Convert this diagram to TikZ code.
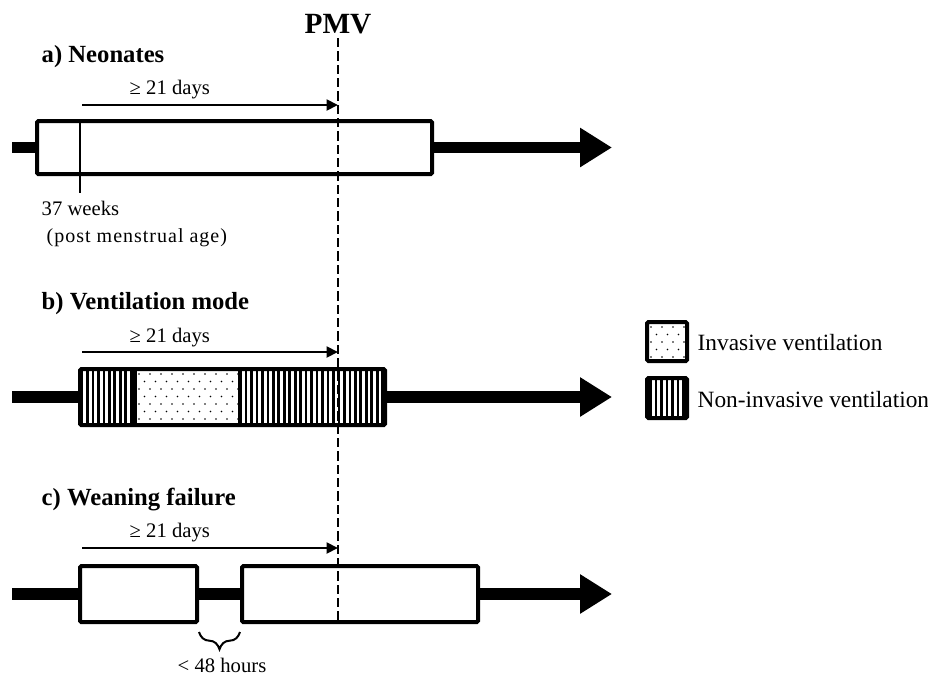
\documentclass[tikz,border=0pt]{standalone}
\usepackage{fontspec}
\setmainfont{Liberation Serif}
\newfontfamily\postfont[LetterSpace=5]{Liberation Serif}
\usetikzlibrary{arrows.meta,fit,patterns.meta,decorations.pathreplacing}
% dotted fill for invasive ventilation: x1 y1 x2 y2
\newcommand{\dotfield}[4]{%
  \begin{scope}
    \clip (#1,#2) rectangle (#3,#4);
    \foreach \r in {0,...,7}
      \foreach \c in {0,...,12}
        \fill ({#1+4+\c*11+mod(\r,2)*5.5},{#2+5+\r*7.5}) circle (0.6pt);
  \end{scope}}
\tikzset{
  box/.style={draw, line width=3pt, fill=white, inner sep=0pt, rounded corners=1pt},
  timeline/.style={line width=8.8pt},
  bigarrow/.style={line width=8.8pt, -{Triangle[length=24pt,width=28pt]}},
  spanarrow/.style={line width=2.2pt, -{Triangle[length=8.5pt,width=8pt]}},
  heading/.style={anchor=base west, font=\bfseries\fontsize{18.5}{22}\selectfont},
  smalltext/.style={anchor=base west, font=\fontsize{15.5}{18}\selectfont},
  legendtext/.style={anchor=base west, font=\fontsize{17.5}{21}\selectfont},
  stripes/.style={pattern={Lines[angle=90,distance=4.1pt,line width=2pt]}},
  pmvline/.style={line width=1.5pt, dash pattern=on 7pt off 3pt},
}
\begin{document}
\begin{tikzpicture}[x=0.75pt,y=-0.75pt]
\useasboundingbox (0,0) rectangle (928,679);
\node[anchor=base, font=\bfseries\fontsize{22}{26}\selectfont] (pmv) at (338,33) {PMV};

% a) neonates
\node[heading] (heada) at (37,62) {a) Neonates};
\node[box, fit={(37,121) (432,174)}] (boxa) {};
\coordinate (a-in) at (12,147.5);
\coordinate (a-out) at (612,147.5);
\draw[timeline] (a-in) -- (boxa.west);
\draw[bigarrow] (boxa.east) -- (a-out);
\coordinate (wk37) at (80,193);
\draw[line width=2pt] (wk37 |- boxa.north) -- (wk37);
\node[smalltext] (wka) at (37,215) {37 weeks};
\node[anchor=base west, font=\postfont\fontsize{15}{18}\selectfont] (pma) at (42,242) {(post menstrual age)};
\coordinate (a-from) at (82,105);
\draw[spanarrow] (a-from) -- (a-from -| pmv);
\node[smalltext] (daysa) at (125,94) {≥ 21 days};

% b) ventilation mode
\node[heading] (headb) at (37,309) {b) Ventilation mode};
\fill[white] (80,369) rectangle (385,425);
\fill[stripes] (80,369) rectangle (135,425);
\dotfield{135}{369}{240}{425}
\fill[stripes] (240,369) rectangle (385,425);
\draw[line width=3pt] (135,369) -- (135,425) (240,369) -- (240,425);
\node[box, fill=none, fit={(80,369) (385,425)}] (boxb) {};
\coordinate (b-in) at (12,397);
\coordinate (b-out) at (612,397);
\draw[timeline] (b-in) -- (boxb.west);
\draw[bigarrow] (boxb.east) -- (b-out);
\coordinate (b-from) at (82,352);
\draw[spanarrow] (b-from) -- (b-from -| pmv);
\node[smalltext] (daysb) at (125,342) {≥ 21 days};

% legend
\fill[white] (647,322) rectangle (687,361);
\dotfield{647}{322}{687}{361}
\node[box, fill=none, fit={(647,322) (687,361)}] (leginv) {};
\node[legendtext] (txtinv) at (693,350) {Invasive ventilation};
\fill[stripes] (647,378) rectangle (687,418);
\node[box, fill=none, fit={(647,378) (687,418)}] (legniv) {};
\node[legendtext] (txtniv) at (693,407) {Non-invasive ventilation};

% c) weaning failure
\node[heading] (headc) at (37,505) {c) Weaning failure};
\node[box, fit={(80,566) (197,622)}] (boxc1) {};
\node[box, fit={(242,566) (478,622)}] (boxc2) {};
\coordinate (c-in) at (12,594);
\coordinate (c-out) at (612,594);
\draw[timeline] (c-in) -- (boxc1.west);
\draw[timeline] (boxc1.east) -- (boxc2.west);
\draw[bigarrow] (boxc2.east) -- (c-out);
\coordinate (c-from) at (82,548);
\draw[spanarrow] (c-from) -- (c-from -| pmv);
\node[smalltext] (daysc) at (125,537) {≥ 21 days};
\draw[line width=1.5pt, decorate, decoration={brace, mirror, amplitude=13pt}]
  ([yshift=-6pt]boxc1.south east) -- ([yshift=-6pt]boxc2.south west);
\node[smalltext] (gap) at (173,672) {< 48 hours};

\draw[pmvline] (pmv.south) -- (pmv.south |- boxc2.south);
\end{tikzpicture}
\end{document}
